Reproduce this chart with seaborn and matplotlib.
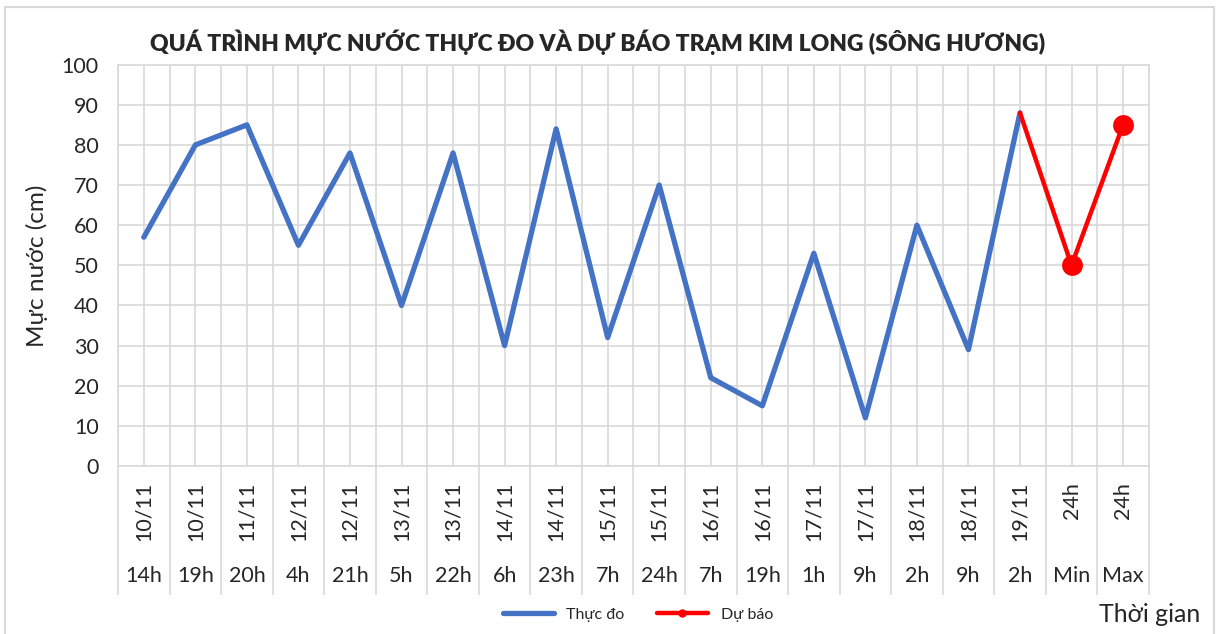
import numpy as np
import pandas as pd
import seaborn as sns
import matplotlib.pyplot as plt
from matplotlib.lines import Line2D
from matplotlib.patches import Rectangle

# category axis: two levels (date / hour)
dates = ['10/11', '10/11', '11/11', '12/11', '12/11', '13/11', '13/11', '14/11', '14/11', '15/11',
         '15/11', '16/11', '16/11', '17/11', '17/11', '18/11', '18/11', '19/11', '24h', '24h']
hours = ['14h', '19h', '20h', '4h', '21h', '5h', '22h', '6h', '23h', '7h',
         '24h', '7h', '19h', '1h', '9h', '2h', '9h', '2h', 'Min', 'Max']

# water level (cm)
observed = [57, 80, 85, 55, 78, 40, 78, 30, 84, 32, 70, 22, 15, 53, 12, 60, 29, 88]
forecast = [88, 50, 85]  # from last observation to Min / Max

title = 'QUÁ TRÌNH MỰC NƯỚC THỰC ĐO VÀ DỰ BÁO TRẠM KIM LONG (SÔNG HƯƠNG)'

BLUE = '#4472C4'
RED = '#FF0000'
GRID = '#D9D9D9'

sns.set_theme(style='white')
plt.rcParams['font.family'] = ['Lato', 'Noto Sans', 'DejaVu Sans']

n = len(hours)
df_obs = pd.DataFrame({'pos': np.arange(len(observed)), 'level': observed})
df_fc = pd.DataFrame({'pos': np.arange(n - len(forecast), n), 'level': forecast})

fig = plt.figure(figsize=(12.17, 6.34), dpi=100)
ax = fig.add_axes([0.097, 0.265, 0.847, 0.633])

sns.lineplot(data=df_obs, x='pos', y='level', color=BLUE, linewidth=3.8, ax=ax)
sns.lineplot(data=df_fc, x='pos', y='level', color=RED, linewidth=3.2,
             marker='o', markersize=15, markevery=[1, 2], markeredgewidth=0, ax=ax)

ax.set_xlim(-0.5, n - 0.5)
ax.set_ylim(0, 100)
ax.set_yticks(range(0, 101, 10))
ax.set_xticks(np.arange(-0.5, n, 0.5))
ax.set_xticklabels([])
ax.tick_params(axis='x', length=0)
ax.tick_params(axis='y', length=0, labelsize=15.5, pad=14)
ax.grid(True, color=GRID, linewidth=1.2)
ax.set_axisbelow(True)
for s in ax.spines.values():
    s.set_color(GRID)
    s.set_linewidth(1.2)
ax.set_xlabel('')
ax.set_ylabel('Mực nước (cm)', fontsize=17.5, labelpad=10)

# multi-level category labels under the axis
xt = ax.get_xaxis_transform()
ax.vlines(np.arange(-0.5, n, 1), -0.322, 0, transform=xt, color=GRID, linewidth=1.2, clip_on=False)
for i, (d, h) in enumerate(zip(dates, hours)):
    ax.text(i, -0.04, d, transform=xt, rotation=90, ha='center', va='top', fontsize=15.5)
    ax.text(i, -0.275, h, transform=xt, ha='center', va='center', fontsize=15.5)

fig.text(0.491, 0.933, title, ha='center', va='center', fontsize=16.5, fontweight='heavy')
fig.text(0.986, 0.03, 'Thời gian', ha='right', va='center', fontsize=18)

handles = [Line2D([], [], color=BLUE, linewidth=3.8),
           Line2D([], [], color=RED, linewidth=3.2, marker='o', markersize=5)]
fig.legend(handles, ['Thực đo', 'Dự báo'], loc='center', bbox_to_anchor=(0.524, 0.03),
           ncol=2, frameon=False, fontsize=11.5, handlelength=3.2, columnspacing=2.0)

# chart border
fig.patches.append(Rectangle((5 / 1217, -0.05), 1209 / 1217, 1.05 - 7 / 634, transform=fig.transFigure,
                             fill=False, edgecolor=GRID, linewidth=1.5))

fig.savefig('out.png', dpi=100)
